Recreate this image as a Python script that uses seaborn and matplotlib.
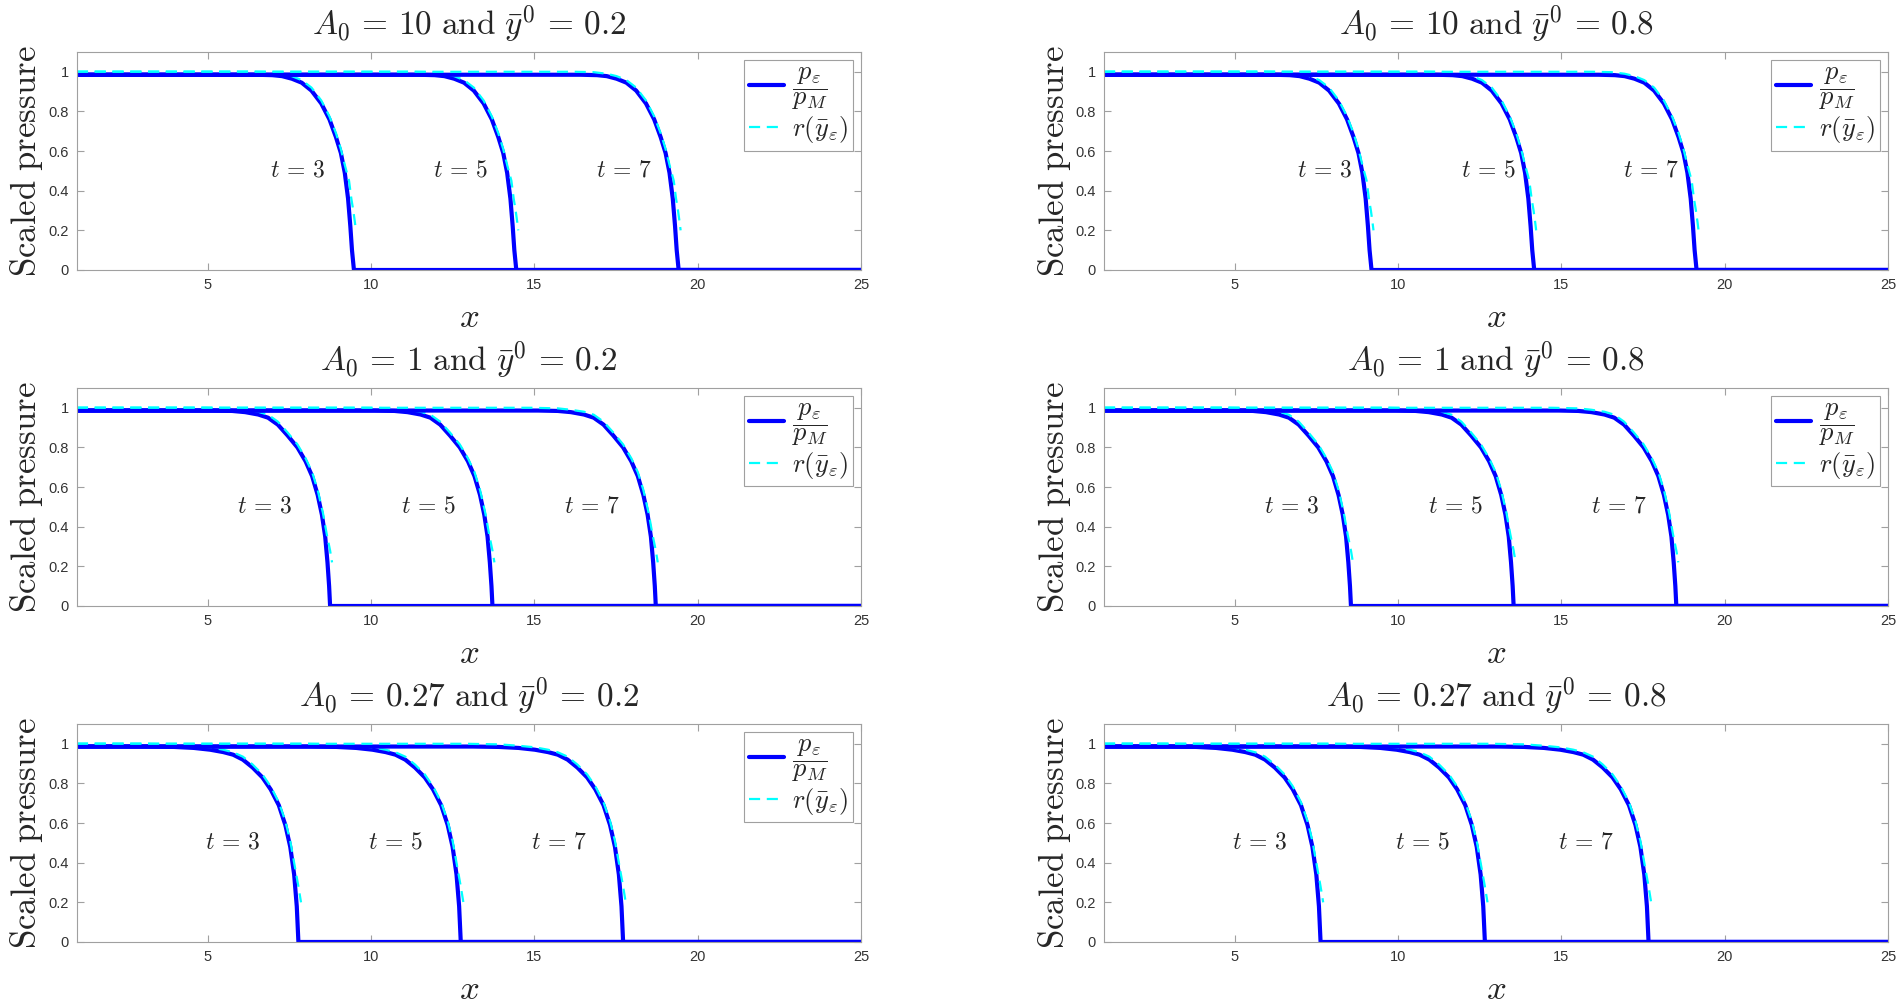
import matplotlib
matplotlib.use("Agg")
import matplotlib.pyplot as plt
import seaborn as sns

# panel labels
a0_labels = ["10", "1", "0.27"]
ybar0_labels = ["0.2", "0.8"]
times = [3, 5, 7]

# front positions (x where p drops to 0) for t = 3, 5, 7
fronts_y02 = [[9.48, 14.45, 19.42], [8.75, 13.72, 18.72], [7.78, 12.75, 17.72]]
fronts_y08 = [[9.19, 14.17, 19.14], [8.56, 13.54, 18.52], [7.63, 12.66, 17.67]]

# position of the "t = .." labels
label_x = [[7.75, 12.75, 17.75], [6.75, 11.75, 16.75], [5.75, 10.75, 15.75]]
label_y = 0.5

# profile near the front: offset from front -> value (one per row, A0 = 10, 1, 0.27)
p_off_A10 = [-3.0, -2.5, -2.2, -1.9, -1.6, -1.3, -1.0, -0.75, -0.55, -0.4, -0.28, -0.18, -0.11, -0.06, 0.0]
p_val_A10 = [0.985, 0.983, 0.978, 0.965, 0.945, 0.905, 0.84, 0.76, 0.67, 0.59, 0.49, 0.36, 0.22, 0.10, 0.0]
r_off_A10 = [-3.2, -2.6, -2.2, -1.9, -1.6, -1.3, -1.0, -0.75, -0.55, -0.4, -0.28, -0.15, -0.08, -0.02, 0.03, 0.06]
r_val_A10 = [1.0, 0.998, 0.99, 0.978, 0.958, 0.92, 0.855, 0.775, 0.69, 0.61, 0.53, 0.45, 0.36, 0.30, 0.24, 0.2]

p_off_A1 = [-3.6, -3.0, -2.6, -2.2, -1.9, -1.6, -1.3, -1.0, -0.75, -0.55, -0.38, -0.25, -0.15, -0.08, -0.03, 0.0]
p_val_A1 = [0.986, 0.984, 0.978, 0.966, 0.95, 0.915, 0.86, 0.80, 0.73, 0.655, 0.56, 0.46, 0.35, 0.22, 0.10, 0.0]
r_off_A1 = [-3.8, -3.0, -2.6, -2.2, -1.9, -1.6, -1.3, -1.0, -0.75, -0.55, -0.38, -0.22, -0.10, 0.0, 0.06]
r_val_A1 = [1.0, 0.997, 0.99, 0.98, 0.965, 0.93, 0.875, 0.815, 0.745, 0.675, 0.585, 0.47, 0.36, 0.28, 0.22]

p_off_A027 = [-4.6, -3.8, -3.2, -2.7, -2.3, -2.0, -1.7, -1.4, -1.1, -0.85, -0.6, -0.4, -0.25, -0.13, -0.05, 0.0]
p_val_A027 = [0.986, 0.984, 0.979, 0.97, 0.958, 0.945, 0.92, 0.88, 0.83, 0.77, 0.69, 0.59, 0.48, 0.34, 0.18, 0.0]
r_off_A027 = [-4.8, -3.8, -3.2, -2.7, -2.3, -2.0, -1.7, -1.4, -1.1, -0.85, -0.6, -0.4, -0.25, -0.12, 0.0, 0.08]
r_val_A027 = [1.0, 0.997, 0.99, 0.982, 0.97, 0.957, 0.935, 0.895, 0.845, 0.785, 0.705, 0.61, 0.51, 0.39, 0.28, 0.2]

p_profiles = [(p_off_A10, p_val_A10), (p_off_A1, p_val_A1), (p_off_A027, p_val_A027)]
r_profiles = [(r_off_A10, r_val_A10), (r_off_A1, r_val_A1), (r_off_A027, r_val_A027)]

x_start, x_end = 1, 25
yticks = [0, 0.2, 0.4, 0.6, 0.8, 1]
ytick_labels = ["0", "0.2", "0.4", "0.6", "0.8", "1"]
xticks = [5, 10, 15, 20, 25]

sns.set_style("white")
plt.rcParams["font.family"] = ["Liberation Sans", "DejaVu Sans"]
plt.rcParams["mathtext.fontset"] = "cm"

fig, axes = plt.subplots(3, 2, figsize=(19.04, 10.05), dpi=100)
fig.subplots_adjust(left=0.0404, right=0.9916, bottom=0.0627, top=0.9483,
                    wspace=0.31, hspace=0.541)

for col, fronts_all in enumerate([fronts_y02, fronts_y08]):
    for row in range(3):
        ax = axes[row, col]
        p_off, p_val = p_profiles[row]
        r_off, r_val = r_profiles[row]
        fronts = fronts_all[row]
        for k, f in enumerate(fronts):
            px = [x_start] + [f + o for o in p_off] + [x_end]
            py = [p_val[0]] + p_val + [0.0]
            sns.lineplot(x=px, y=py, ax=ax, color="blue", lw=3,
                         sort=False, estimator=None)
            rx = [x_start] + [f + o for o in r_off]
            ry = [1.0] + r_val
            sns.lineplot(x=rx, y=ry, ax=ax, color="cyan", lw=1.6,
                         linestyle="--", sort=False, estimator=None)
            ax.lines[-1].set_dashes([5, 3])
            ax.text(label_x[row][k], label_y, r"$t\,=\,%d$" % times[k],
                    ha="center", va="center", fontsize=17)

        ax.set_xlim(x_start, x_end)
        ax.set_ylim(0, 1.1)
        ax.set_xticks(xticks)
        ax.set_xticklabels([str(t) for t in xticks])
        ax.set_yticks(yticks)
        ax.set_yticklabels(ytick_labels)
        ax.tick_params(direction="in", top=True, right=True, bottom=True, left=True,
                       length=5, width=0.8, color="#a0a0a0",
                       labelcolor="#333333", labelsize=10.5, pad=6)
        for sp in ax.spines.values():
            sp.set_color("#a0a0a0")
            sp.set_linewidth(0.8)
        ax.set_xlabel(r"$x$", fontsize=25, labelpad=6)
        ax.set_ylabel(r"$\mathrm{Scaled\ pressure}$", fontsize=25, labelpad=2)
        ax.set_title(r"$A_0\,=\,%s\ \mathrm{and}\ \bar{y}^0\,=\,%s$"
                     % (a0_labels[row], ybar0_labels[col]), fontsize=24, pad=12)

        if not (row == 2 and col == 1):
            handles = [ax.lines[0], ax.lines[1]]
            leg = ax.legend(handles,
                            [r"$\dfrac{p_\varepsilon}{p_M}$", r"$r(\bar{y}_\varepsilon)$"],
                            loc="upper right", fontsize=19, handlelength=1.3,
                            handletextpad=0.3, borderpad=0.2, labelspacing=0.1,
                            borderaxespad=0.3, fancybox=False, framealpha=1)
            leg.get_frame().set_edgecolor("#a0a0a0")
            leg.get_frame().set_linewidth(0.8)

fig.savefig("out.png", dpi=100)
